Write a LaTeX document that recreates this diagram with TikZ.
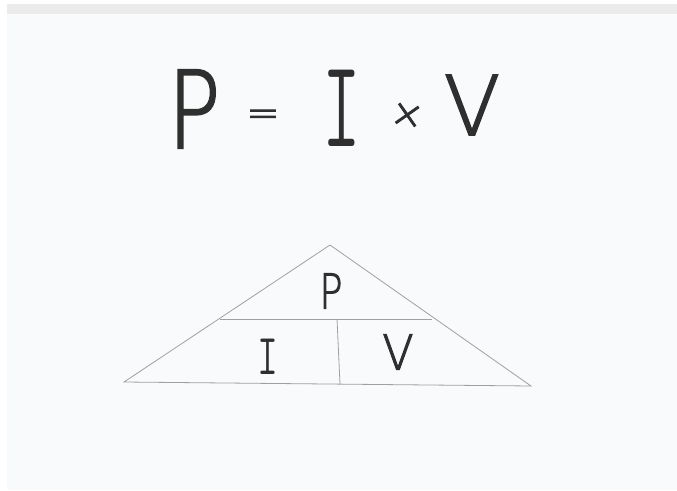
\documentclass[tikz,border=0pt]{standalone}
\usepackage{fontspec}
\usepackage{tikz}
\usetikzlibrary{positioning}
\newfontfamily\hand[FakeBold=2.2]{DejaVu Sans ExtraLight}
\definecolor{ink}{HTML}{2F2F2F}
\definecolor{pencil}{HTML}{A0A0A0}
\definecolor{band}{HTML}{EBEBEB}
\definecolor{paper}{HTML}{F9FAFB}
\newcommand{\narrow}[2]{\scalebox{#1}[1]{#2}}

\begin{document}
\begin{tikzpicture}[
    x=1pt, y=-1pt,
    every node/.style={inner sep=0pt, text=ink},
    bigletter/.style={font=\hand\fontsize{107}{107}\selectfont},
    barletter/.style={font=\ttfamily\fontsize{125}{125}\selectfont},
    smallletter/.style={font=\hand\fontsize{48}{48}\selectfont},
    smallbar/.style={font=\ttfamily\fontsize{58}{58}\selectfont},
    sign/.style={font=\hand\fontsize{40}{40}\selectfont},
    edge/.style={draw=pencil, line width=0.8pt}
]
\useasboundingbox (0,0) rectangle (677,490);
\fill[white] (0,0) rectangle (677,490);
\fill[paper] (7,14) rectangle (677,490);
\fill[band] (7,4) rectangle (677,14);

% formula
\node[bigletter] (lhsP) at (194,109) {\narrow{0.82}{P}};
\node[sign] (eq) at (263,118) {=};
\node[barletter] (rhsI) at (342,108) {\narrow{0.6}{I}};
\node[sign, rotate=-10] (times) at (407,116) {×};
\node[bigletter, font=\hand\fontsize{82}{82}\selectfont] (rhsV) at (472,105) {V};

% triangle
\coordinate (apex) at (330,245);
\coordinate (left) at (124,382);
\coordinate (right) at (531,386);
\coordinate (midL) at (220,319);
\coordinate (midR) at (432,319);
\coordinate (split) at (337,319);
\coordinate (base) at (340,384);
\draw[edge] (left) -- (apex) -- (right) -- cycle;
\draw[edge] (midL) -- (midR);
\draw[edge] (split) -- (base);

\node[smallletter] (triP) at (331,291) {\narrow{0.8}{P}};
\node[smallbar] (triI) at (268,357) {\narrow{0.7}{I}};
\node[smallletter] (triV) at (398,352) {\narrow{0.95}{V}};
\end{tikzpicture}
\end{document}
